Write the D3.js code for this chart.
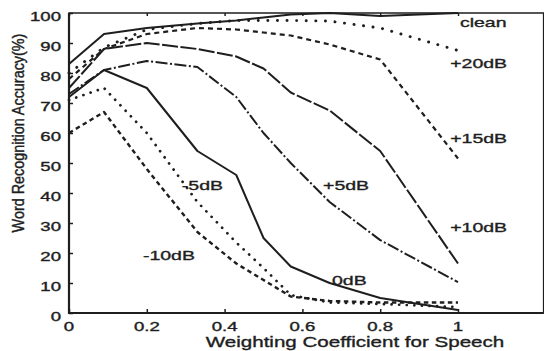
<!DOCTYPE html>
<html>
<head>
<meta charset="utf-8">
<script src="https://cdn.jsdelivr.net/npm/d3@7"></script>
<style>
body{margin:0;background:#fff;}
text{font-family:"Liberation Sans",Arial,sans-serif;fill:#1e1e1e;stroke:#1e1e1e;stroke-width:0.35px;}
</style>
</head>
<body>
<svg id="chart" width="544" height="351"></svg>
<script>
// weighting coefficients where recognition was measured
const weights = [0, 0.09, 0.2, 0.33, 0.43, 0.5, 0.57, 0.67, 0.8, 1];

// word recognition accuracy (%) for each noise condition
const accClean = [83, 93, 95, 96.5, 97.5, 98.5, 99.5, 100, 99, 100];
const acc20dB  = [80, 88.5, 94.5, 96.5, 97.5, 97.5, 97.5, 97.3, 95, 87.5];
const acc15dB  = [78, 88, 93, 95, 94.5, 93.5, 92.5, 89.5, 84.5, 51.5];
const acc10dB  = [75, 88, 90, 88, 85.5, 81.5, 73.5, 67.5, 54, 16.5];
const acc5dB   = [73, 81, 84, 82, 72, 60, 50, 37, 24.3, 10.3];
const acc0dB   = [72, 81, 75, 54, 46, 25, 15.5, 10, 5, 1];
const accM5dB  = [71, 75, 60, 37, 23.5, 15, 6, 3.5, 3, 2];
const accM10dB = [60, 67, 48, 27, 16.5, 11, 5.5, 4, 3.5, 3.5];

const seriesNames = ['clean', '+20dB', '+15dB', '+10dB', '+5dB', '0dB', '-5dB', '-10dB'];
const seriesValues = [accClean, acc20dB, acc15dB, acc10dB, acc5dB, acc0dB, accM5dB, accM10dB];

const xTicks = [0, 0.2, 0.4, 0.6, 0.8, 1];
const xTickLabels = ['0', '0.2', '0.4', '0.6', '0.8', '1'];
const yTicks = [0, 10, 20, 30, 40, 50, 60, 70, 80, 90, 100];
const yTickLabels = ['0', '10', '20', '30', '40', '50', '60', '70', '80', '90', '100'];

const xTitle = 'Weighting Coefficient for Speech';
const yTitle = 'Word Recognition Accuracy(%)';

// line look + where the label sits (in data units)
const styles = {
    'clean': {dash: null, w: 2, label: [1.005, 95.3]},
    '+20dB': {dash: '0.1,9.5', w: 2.9, cap: 'round', label: [0.98, 81.7]},
    '+15dB': {dash: '5,4', w: 2.2, label: [0.98, 56.7]},
    '+10dB': {dash: '16,2.5', w: 2, label: [0.98, 27]},
    '+5dB':  {dash: '12,2.5,2,2.5', w: 2, label: [0.653, 41]},
    '0dB':   {dash: null, w: 2, label: [0.676, 9.3]},
    '-5dB':  {dash: '0.1,7.5', w: 2.7, cap: 'round', label: [0.29, 41]},
    '-10dB': {dash: '4.5,3.5', w: 2.4, label: [0.19, 17.7]}
};

const svg = d3.select('#chart');
const ink = '#1e1e1e';

const x = d3.scaleLinear().domain([0, 1]).range([69, 458]);
const y = d3.scaleLinear().domain([0, 100]).range([313, 13]);
const xEnd = 1.22; // frame goes past 1

// text in the scan is stretched sideways, so scale it
function stretchText(str, px, py, size, sx, anchor){
    return svg.append('text')
        .attr('transform', `translate(${px},${py}) scale(${sx},1)`)
        .attr('text-anchor', anchor || 'start')
        .style('font-size', size + 'px')
        .text(str);
}

// ticks (inward)
const axL = svg.append('g').attr('transform', `translate(${x(0)},0)`)
    .call(d3.axisLeft(y).tickValues(yTicks).tickSize(-4).tickFormat(''));
const axB = svg.append('g').attr('transform', `translate(0,${y(0)})`)
    .call(d3.axisBottom(x).tickValues(xTicks).tickSize(-4).tickFormat(''));
const axT = svg.append('g').attr('transform', `translate(0,${y(100)})`)
    .call(d3.axisTop(x).tickValues(xTicks).tickSize(-3).tickFormat(''));
[axL, axB, axT].forEach(a => {
    a.select('.domain').remove();
    a.selectAll('line').attr('stroke', ink).attr('stroke-width', 1.5);
});

// frame
svg.append('path')
    .attr('d', `M${x(0)},${y(0)}H${x(xEnd)}V${y(100)}H${x(0)}Z`)
    .attr('fill', 'none')
    .attr('stroke', ink)
    .attr('stroke-width', 1.4);
svg.append('path')
    .attr('d', `M${x(0)},${y(100)}V${y(0)}H${x(xEnd)}`)
    .attr('fill', 'none')
    .attr('stroke', ink)
    .attr('stroke-width', 2.2);

// tick labels
yTicks.forEach((v, i) => stretchText(yTickLabels[i], 61, y(v) + 8, 12, 1.55, 'end'));
xTicks.forEach((v, i) => stretchText(xTickLabels[i], x(v), 331, 12, 1.55, 'middle'));

// titles
stretchText(xTitle, 355, 347, 15, 1.37, 'middle');
svg.append('text')
    .attr('transform', 'translate(24,133) rotate(-90) scale(1,1.2)')
    .attr('text-anchor', 'middle')
    .style('font-size', '14.4px')
    .text(yTitle);

// curves
const line = d3.line()
    .x((d, i) => x(weights[i]))
    .y(d => y(d));

seriesNames.forEach((name, k) => {
    const s = styles[name];
    svg.append('path')
        .datum(seriesValues[k])
        .attr('d', line)
        .attr('fill', 'none')
        .attr('stroke', ink)
        .attr('stroke-width', s.w)
        .attr('stroke-linejoin', 'round')
        .attr('stroke-linecap', s.cap || 'butt')
        .attr('stroke-dasharray', s.dash);
    stretchText(name, x(s.label[0]), y(s.label[1]), 13, 1.5);
});
</script>
</body>
</html>
